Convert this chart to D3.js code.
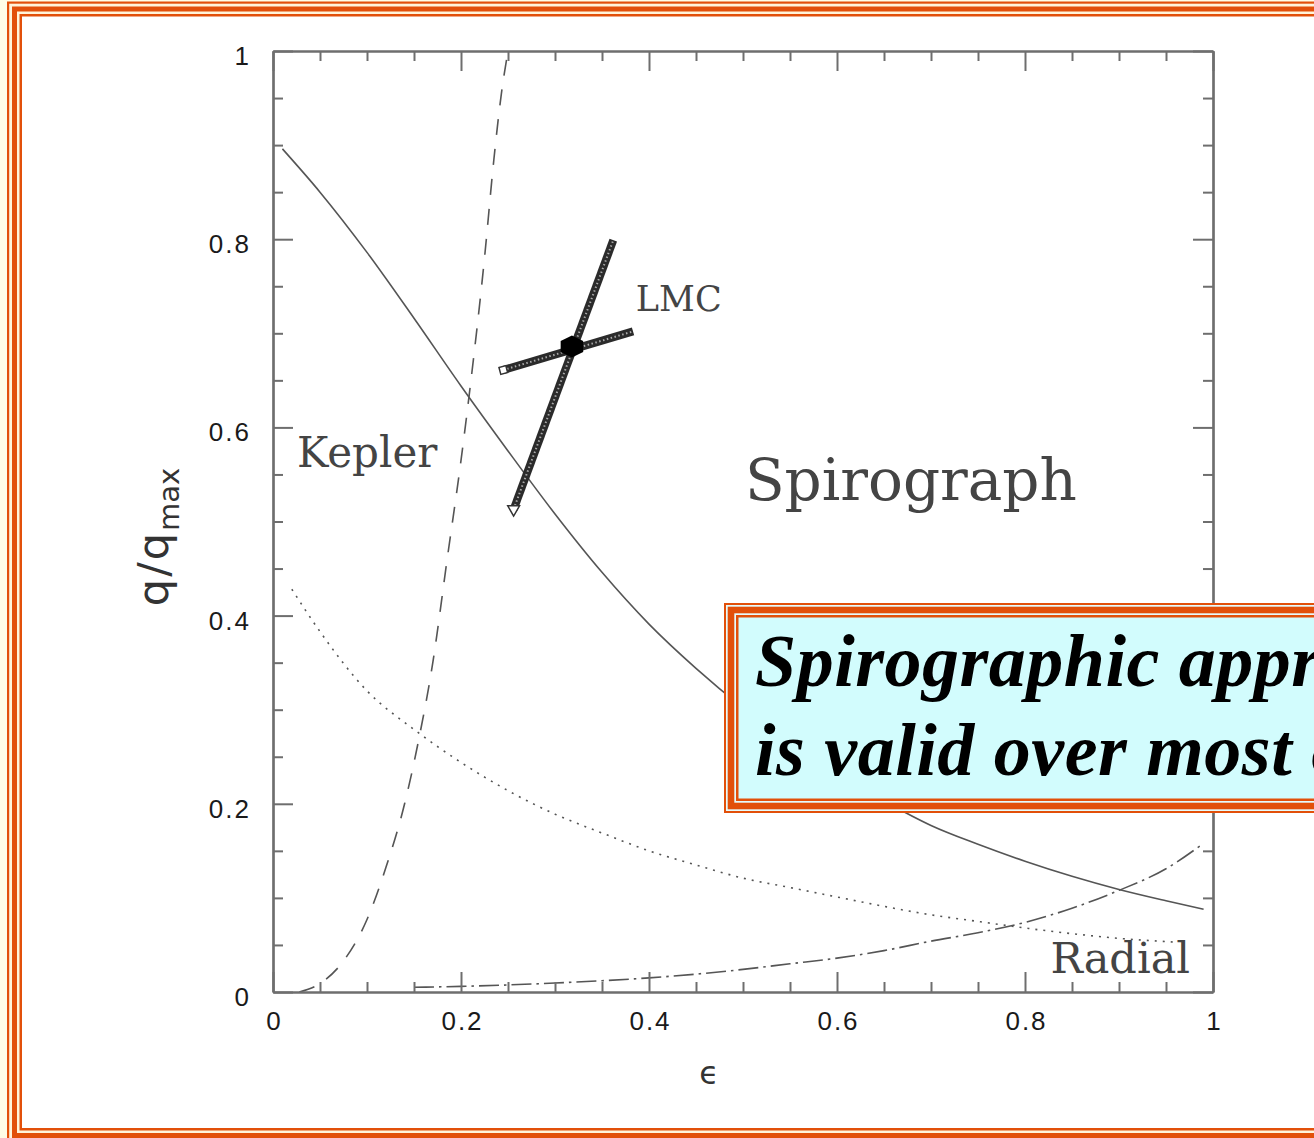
<!DOCTYPE html>
<html>
<head>
<meta charset="utf-8">
<script src="https://cdn.jsdelivr.net/npm/d3@7"></script>
<style>
  html, body { margin: 0; padding: 0; background: #fffde6; }
  svg { display: block; }
</style>
</head>
<body>
<svg id="chart" width="1314" height="1138"></svg>
<script>
// Boundary curves in the (eccentricity, q/q_max) plane
const spiroEps = [0.01, 0.05, 0.1, 0.15, 0.2, 0.25, 0.3, 0.35, 0.4, 0.45, 0.5, 0.55, 0.6, 0.65, 0.7, 0.75, 0.8, 0.85, 0.9, 0.95, 0.99];
const spiroQ   = [0.896, 0.850, 0.786, 0.716, 0.644, 0.575, 0.508, 0.446, 0.391, 0.344, 0.302, 0.265, 0.232, 0.203, 0.177, 0.157, 0.139, 0.123, 0.109, 0.097, 0.088];

const keplerEps = [0.028, 0.05, 0.075, 0.1, 0.12, 0.14, 0.155, 0.17, 0.185, 0.2, 0.21, 0.225, 0.235, 0.243, 0.25];
const keplerQ   = [0.0, 0.009, 0.033, 0.077, 0.132, 0.200, 0.268, 0.350, 0.458, 0.565, 0.645, 0.780, 0.885, 0.955, 1.0];

const radialEps = [0.02, 0.05, 0.1, 0.15, 0.2, 0.25, 0.3, 0.35, 0.4, 0.45, 0.5, 0.55, 0.6, 0.65, 0.7, 0.75, 0.8, 0.85, 0.9, 0.96];
const radialQ   = [0.428, 0.383, 0.320, 0.279, 0.244, 0.214, 0.189, 0.169, 0.150, 0.135, 0.121, 0.111, 0.101, 0.091, 0.082, 0.075, 0.068, 0.062, 0.057, 0.053];

const lowEps = [0.15, 0.2, 0.25, 0.3, 0.35, 0.4, 0.45, 0.5, 0.55, 0.6, 0.65, 0.7, 0.75, 0.8, 0.85, 0.9, 0.95, 0.99];
const lowQ   = [0.005, 0.006, 0.0075, 0.0095, 0.012, 0.015, 0.019, 0.024, 0.030, 0.036, 0.044, 0.054, 0.063, 0.074, 0.089, 0.108, 0.131, 0.158];

// LMC estimate with its two error bars
const lmcCenter = [0.318, 0.686];
const lmcMajor  = [[0.256, 0.513], [0.362, 0.799]];
const lmcMinor  = [[0.245, 0.661], [0.383, 0.702]];

// Axis ticks
const majorTicks = [0, 0.2, 0.4, 0.6, 0.8, 1];
const majorTickLabels = ["0", "0.2", "0.4", "0.6", "0.8", "1"];
const minorTicks = [0.05, 0.1, 0.15, 0.25, 0.3, 0.35, 0.45, 0.5, 0.55, 0.65, 0.7, 0.75, 0.85, 0.9, 0.95];

// Region names
const regionNames = ["Kepler", "LMC", "Spirograph", "Radial"];
const regionEps   = [0.0255, 0.386, 0.502, 0.827];
const regionQ     = [0.558, 0.724, 0.523, 0.020];

const calloutLines = ["Spirographic approximation", "is valid over most of parameter space"];

const ORANGE = "#e2500a";
const svg = d3.select("#chart");

// ---- slide frame (thin / thick / thin orange rules) ----
function ruledBox(g, x0, y0, x1, y1, layers) {
  layers.forEach(([inset, color]) => {
    g.append("rect")
      .attr("x", x0 + inset).attr("y", y0 + inset)
      .attr("width", x1 - x0 - 2 * inset).attr("height", y1 - y0 - 2 * inset)
      .attr("fill", color);
  });
}
ruledBox(svg.append("g"), 7, 1.5, 1345, 1143, [
  [0, ORANGE], [2.2, "#fff4da"], [5, ORANGE], [10, "#fff4da"], [12.5, ORANGE], [15, "#ffffff"]
]);

// ---- plot ----
const x = d3.scaleLinear().domain([0, 1]).range([273, 1213]);
const y = d3.scaleLinear().domain([0, 1]).range([992, 51]);

const plot = svg.append("g");
const line = d3.line().x(d => x(d[0])).y(d => y(d[1])).curve(d3.curveMonotoneX);
const zip = (a, b) => a.map((v, i) => [v, b[i]]);

const curves = [
  { pts: zip(spiroEps, spiroQ), dash: null },
  { pts: zip(keplerEps, keplerQ), dash: "16,14" },
  { pts: zip(radialEps, radialQ), dash: "2,6" },
  { pts: zip(lowEps, lowQ), dash: "20,5,2.5,5" }
];
plot.selectAll("path.curve").data(curves).join("path")
  .attr("class", "curve")
  .attr("d", d => line(d.pts))
  .attr("fill", "none")
  .attr("stroke", "#555")
  .attr("stroke-width", 1.6)
  .attr("stroke-dasharray", d => d.dash);

// LMC error bars: dark band with a light chain pattern
const bars = [lmcMajor, lmcMinor];
const straight = d3.line().x(d => x(d[0])).y(d => y(d[1]));
plot.selectAll("path.bar").data(bars).join("path")
  .attr("class", "bar")
  .attr("d", d => straight(d))
  .attr("stroke", "#2b2b2b").attr("stroke-width", 8).attr("fill", "none");
plot.selectAll("path.barchain").data(bars).join("path")
  .attr("class", "barchain")
  .attr("d", d => straight(d))
  .attr("stroke", "#ffffff").attr("stroke-width", 2).attr("stroke-opacity", 0.6)
  .attr("stroke-dasharray", "1.5,2.5").attr("fill", "none");

// open end symbols of the bars
plot.append("path")
  .attr("d", d3.symbol(d3.symbolTriangle, 60)())
  .attr("transform", `translate(${x(lmcMajor[0][0])},${y(lmcMajor[0][1])}) rotate(180)`)
  .attr("fill", "#fff").attr("stroke", "#333").attr("stroke-width", 1.5);
plot.append("path")
  .attr("d", d3.symbol(d3.symbolSquare, 50)())
  .attr("transform", `translate(${x(lmcMinor[0][0])},${y(lmcMinor[0][1])}) rotate(-15)`)
  .attr("fill", "#fff").attr("stroke", "#333").attr("stroke-width", 1.5);

// filled hexagonal centre marker
const cx = x(lmcCenter[0]), cy = y(lmcCenter[1]);
const hex = d3.range(6).map(i => {
  const a = Math.PI / 6 + i * Math.PI / 3;
  return [cx + 13 * Math.cos(a), cy + 11 * Math.sin(a)];
});
plot.append("polygon")
  .attr("points", hex.map(p => p.join(",")).join(" "))
  .attr("fill", "#000");

// region names
const nameSizes = [42, 35, 58, 43];
plot.selectAll("text.region").data(regionNames).join("text")
  .attr("class", "region")
  .attr("x", (d, i) => x(regionEps[i]))
  .attr("y", (d, i) => y(regionQ[i]))
  .attr("font-family", "DejaVu Serif")
  .attr("font-size", (d, i) => nameSizes[i])
  .attr("fill", "#444")
  .text(d => d);

// ---- axes box with inward ticks on all four sides ----
const axisColor = "#6e6e6e";
function styleAxis(g) {
  g.select(".domain").attr("stroke", axisColor).attr("stroke-width", 2.2);
  g.selectAll(".tick line").attr("stroke", axisColor).attr("stroke-width", 2);
}
function addAxis(gen, tx, ty, values, size, labels, pad) {
  const a = gen.tickValues(values).tickSize(size).tickSizeOuter(0).tickPadding(pad || 3)
    .tickFormat(labels ? ((d, i) => labels[i]) : () => "");
  const g = plot.append("g").attr("transform", `translate(${tx},${ty})`).call(a);
  styleAxis(g);
  return g;
}
const gb = addAxis(d3.axisBottom(x), 0, 992, majorTicks, -20, majorTickLabels, 20);
addAxis(d3.axisBottom(x), 0, 992, minorTicks, -10);
const gl = addAxis(d3.axisLeft(y), 273, 0, majorTicks, -20, majorTickLabels, 24);
addAxis(d3.axisLeft(y), 273, 0, minorTicks, -10);
addAxis(d3.axisTop(x), 0, 51, majorTicks, -20);
addAxis(d3.axisTop(x), 0, 51, minorTicks, -10);
addAxis(d3.axisRight(y), 1213, 0, majorTicks, -20);
addAxis(d3.axisRight(y), 1213, 0, minorTicks, -10);

[gb, gl].forEach(g => g.selectAll(".tick text")
  .attr("font-family", "Liberation Sans, Arial, sans-serif")
  .attr("font-size", 26)
  .attr("fill", "#1a1a1a")
  .attr("letter-spacing", 2));
gb.selectAll(".tick text").attr("dx", 1);
gl.selectAll(".tick text").attr("dy", "0.52em").attr("dx", 2);

// axis titles
plot.append("text")
  .attr("x", 709).attr("y", 1084)
  .attr("text-anchor", "middle")
  .attr("font-family", "DejaVu Sans")
  .attr("font-size", 32)
  .attr("fill", "#333")
  .text("ϵ");

const yt = plot.append("text")
  .attr("transform", "translate(168,537) rotate(-90)")
  .attr("text-anchor", "middle")
  .attr("font-family", "DejaVu Sans")
  .attr("fill", "#333");
yt.append("tspan").attr("font-size", 43).attr("letter-spacing", 2).text("q/q");
yt.append("tspan").attr("font-size", 29).attr("dy", 11).text("max");

// ---- callout box ----
const callout = svg.append("g");
ruledBox(callout, 724, 603, 1400, 813, [
  [0, ORANGE], [2, "#e6fbfb"], [3.7, ORANGE], [10.3, "#e6fbfb"], [12, ORANGE], [14.5, "#d2fcfd"]
]);
callout.selectAll("text").data(calloutLines).join("text")
  .attr("x", 755)
  .attr("y", (d, i) => 686 + i * 89)
  .attr("font-family", "Liberation Serif, Times New Roman, serif")
  .attr("font-weight", "bold")
  .attr("font-style", "italic")
  .attr("font-size", 74)
  .attr("letter-spacing", 0.5)
  .attr("fill", "#000")
  .text(d => d);
</script>
</body>
</html>
